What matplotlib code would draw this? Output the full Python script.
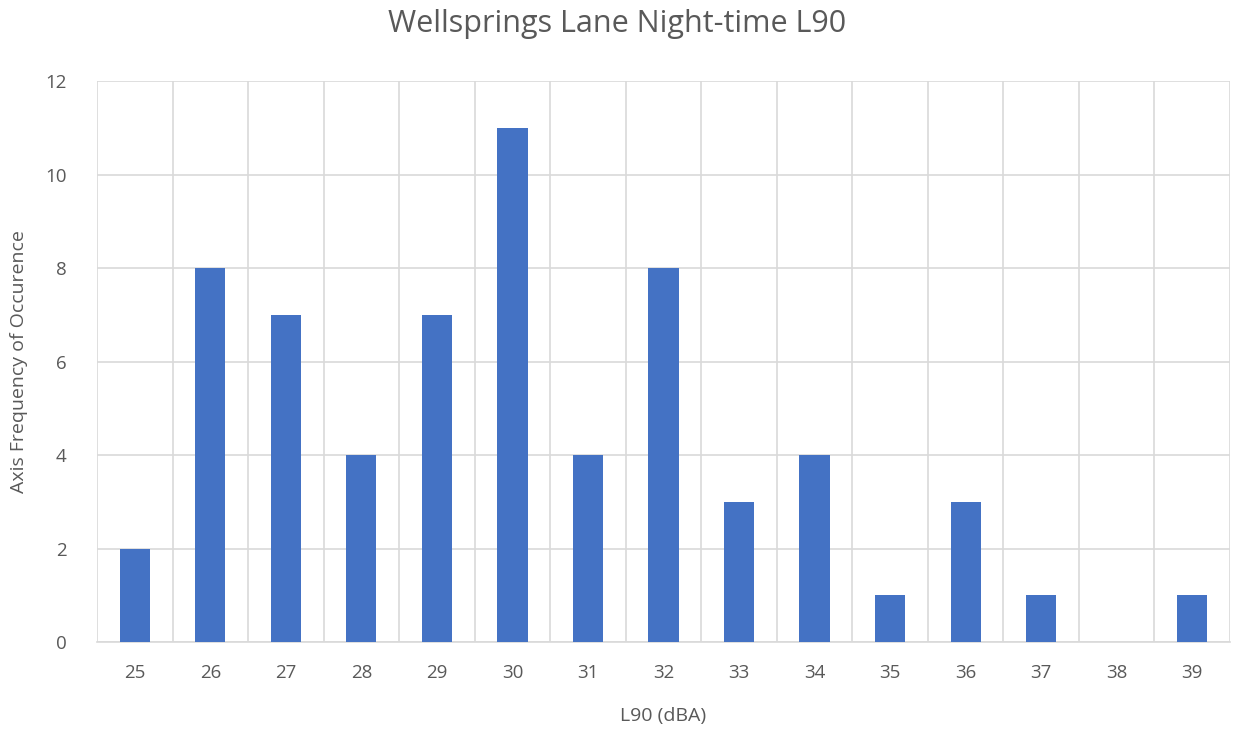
import matplotlib
matplotlib.use("Agg")
import matplotlib.pyplot as plt
import numpy as np

categories = ["25", "26", "27", "28", "29", "30", "31", "32", "33", "34", "35", "36", "37", "38", "39"]
counts = [2, 8, 7, 4, 7, 11, 4, 8, 3, 4, 1, 3, 1, 0, 1]
y_ticks = [0, 2, 4, 6, 8, 10, 12]

plt.rcParams['font.family'] = ['Open Sans', 'DejaVu Sans']
text_color = '#595959'
grid_color = '#d9d9d9'

fig = plt.figure(figsize=(12.35, 7.3), dpi=100)
ax = fig.add_axes([97/1235, 1-642/730, (1230-97)/1235, (642-81)/730])

x = np.arange(len(categories))
ax.bar(x, counts, width=0.4, color='#4472C4', zorder=3)

ax.set_xlim(-0.5, len(categories) - 0.5)
ax.set_ylim(0, 12)
ax.set_yticks(y_ticks)
ax.set_yticklabels([str(v) for v in y_ticks])
ax.set_xticks(x)
ax.set_xticklabels(categories)

ax.set_xticks(np.arange(-0.5, len(categories), 1.0), minor=True)
ax.grid(True, which='minor', axis='x', color=grid_color, linewidth=1.2, zorder=0)
ax.grid(True, which='major', axis='y', color=grid_color, linewidth=1.2, zorder=0)
ax.grid(False, which='major', axis='x')

for s in ['top', 'right', 'left']:
    ax.spines[s].set_visible(False)
ax.spines['bottom'].set_color(grid_color)
ax.spines['bottom'].set_linewidth(1.2)

ax.tick_params(axis='both', which='both', length=0, colors=text_color, labelsize=13.5)
ax.tick_params(axis='x', pad=16)
ax.tick_params(axis='y', pad=22)

ax.set_xlabel('L90 (dBA)', color=text_color, fontsize=14, labelpad=18)
ax.set_ylabel('Axis Frequency of Occurence', color=text_color, fontsize=14, labelpad=12)
fig.suptitle('Wellsprings Lane Night-time L90', color=text_color, fontsize=22, y=0.988)

fig.savefig('out.png', dpi=100)
